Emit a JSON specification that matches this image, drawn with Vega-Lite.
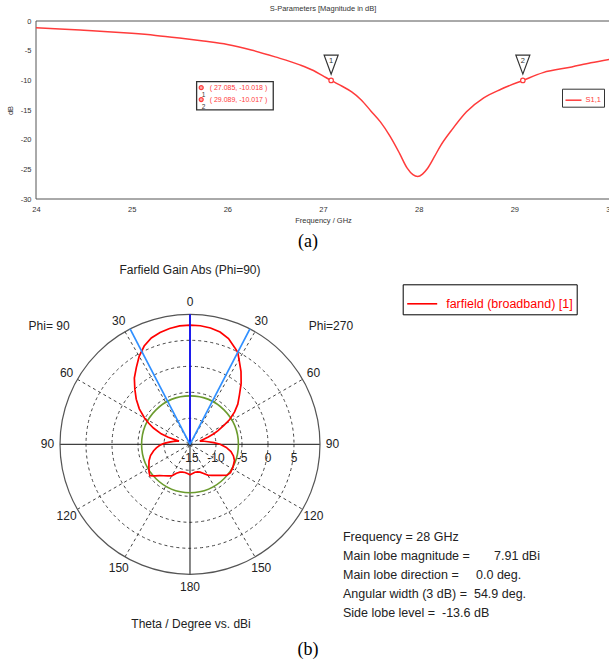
{
"$schema": "https://vega.github.io/schema/vega-lite/v6.json",
"background": "white",
"padding": {"left": 6, "top": 4, "right": 0, "bottom": 0},
"bounds": "flush",
"spacing": 3,
"resolve": {"scale": {"color": "independent", "size": "independent"}, "legend": {"color": "independent", "size": "independent"}},
"config": {
  "font": "Liberation Sans",
  "view": {"stroke": null},
  "axis": {"labelFont": "Liberation Sans", "titleFont": "Liberation Sans", "labelFontSize": 7.5, "titleFontSize": 7.5, "titleFontWeight": "normal", "labelColor": "#333", "titleColor": "#333", "domain": false, "ticks": false, "gridColor": "#777", "gridDash": [1, 2], "gridOpacity": 1, "gridWidth": 1, "labelOverlap": false, "tickCount": 7},
  "title": {"font": "Liberation Sans", "fontSize": 7.5, "fontWeight": "normal", "color": "#333"}
},
"datasets": {
  "s11": [
    {"f": 24, "db": -1.13}, {"f": 24.25, "db": -1.33}, {"f": 24.5, "db": -1.56}, {"f": 24.75, "db": -1.8},
    {"f": 25, "db": -2.08}, {"f": 25.25, "db": -2.43}, {"f": 25.5, "db": -2.88}, {"f": 25.75, "db": -3.38},
    {"f": 26, "db": -3.95}, {"f": 26.25, "db": -4.88}, {"f": 26.5, "db": -6.05}, {"f": 26.75, "db": -7.35},
    {"f": 26.9, "db": -8.35}, {"f": 27, "db": -9.25}, {"f": 27.085, "db": -10.018}, {"f": 27.2, "db": -11.0},
    {"f": 27.3, "db": -11.95}, {"f": 27.4, "db": -13.3}, {"f": 27.5, "db": -15.15}, {"f": 27.6, "db": -17.0},
    {"f": 27.7, "db": -19.4}, {"f": 27.8, "db": -22.3}, {"f": 27.88, "db": -24.8}, {"f": 27.94, "db": -25.9},
    {"f": 27.99, "db": -26.2}, {"f": 28.04, "db": -25.8}, {"f": 28.09, "db": -24.9}, {"f": 28.16, "db": -23.0},
    {"f": 28.23, "db": -21.0}, {"f": 28.34, "db": -18.5}, {"f": 28.5, "db": -15.3}, {"f": 28.68, "db": -12.95},
    {"f": 28.86, "db": -11.5}, {"f": 29.089, "db": -10.017}, {"f": 29.3, "db": -8.7}, {"f": 29.6, "db": -7.75},
    {"f": 29.8, "db": -7.05}, {"f": 30, "db": -6.45}
  ],
  "markers": [{"id": "1", "f": 27.085, "db": -10.018}, {"id": "2", "f": 29.089, "db": -10.017}],
  "farfield": [
    {"phi": 270, "theta": 0, "gain": 7.91}, {"phi": 270, "theta": 5, "gain": 7.88}, {"phi": 270, "theta": 10, "gain": 7.72},
    {"phi": 270, "theta": 15, "gain": 7.35}, {"phi": 270, "theta": 20, "gain": 6.65}, {"phi": 270, "theta": 25, "gain": 5.45},
    {"phi": 270, "theta": 27.45, "gain": 4.91}, {"phi": 270, "theta": 30, "gain": 3.85}, {"phi": 270, "theta": 35, "gain": 2.1},
    {"phi": 270, "theta": 40, "gain": 0.3}, {"phi": 270, "theta": 45, "gain": -1.55}, {"phi": 270, "theta": 50, "gain": -3.0},
    {"phi": 270, "theta": 54, "gain": -4.4}, {"phi": 270, "theta": 58, "gain": -6.0}, {"phi": 270, "theta": 61, "gain": -7.6},
    {"phi": 270, "theta": 64, "gain": -9.0}, {"phi": 270, "theta": 66, "gain": -9.9}, {"phi": 270, "theta": 68, "gain": -11.2},
    {"phi": 270, "theta": 70, "gain": -12.4}, {"phi": 270, "theta": 72, "gain": -13.0}, {"phi": 270, "theta": 75, "gain": -12.6},
    {"phi": 270, "theta": 78, "gain": -12.2}, {"phi": 270, "theta": 82, "gain": -11.5}, {"phi": 270, "theta": 86, "gain": -10.4},
    {"phi": 270, "theta": 90, "gain": -9.2}, {"phi": 270, "theta": 95, "gain": -8.0}, {"phi": 270, "theta": 100, "gain": -7.0},
    {"phi": 270, "theta": 105, "gain": -6.35}, {"phi": 270, "theta": 110, "gain": -5.9}, {"phi": 270, "theta": 118, "gain": -5.65},
    {"phi": 270, "theta": 125, "gain": -5.5}, {"phi": 270, "theta": 130, "gain": -5.75}, {"phi": 270, "theta": 135, "gain": -6.55},
    {"phi": 270, "theta": 140, "gain": -7.2}, {"phi": 270, "theta": 145, "gain": -7.7}, {"phi": 270, "theta": 150, "gain": -8.15},
    {"phi": 270, "theta": 155, "gain": -8.8}, {"phi": 270, "theta": 160, "gain": -9.3}, {"phi": 270, "theta": 165, "gain": -9.5},
    {"phi": 270, "theta": 170, "gain": -9.55}, {"phi": 270, "theta": 175, "gain": -9.35}, {"phi": 270, "theta": 180, "gain": -9.15},
    {"phi": 90, "theta": 175, "gain": -9.35}, {"phi": 90, "theta": 170, "gain": -9.5}, {"phi": 90, "theta": 165, "gain": -9.45},
    {"phi": 90, "theta": 160, "gain": -9.3}, {"phi": 90, "theta": 155, "gain": -8.85}, {"phi": 90, "theta": 150, "gain": -8.0},
    {"phi": 90, "theta": 145, "gain": -7.6}, {"phi": 90, "theta": 140, "gain": -7.1}, {"phi": 90, "theta": 136, "gain": -6.6},
    {"phi": 90, "theta": 132, "gain": -5.95}, {"phi": 90, "theta": 128, "gain": -5.2}, {"phi": 90, "theta": 124, "gain": -5.5},
    {"phi": 90, "theta": 118, "gain": -6.05}, {"phi": 90, "theta": 112, "gain": -6.5}, {"phi": 90, "theta": 106, "gain": -7.1},
    {"phi": 90, "theta": 100, "gain": -7.9}, {"phi": 90, "theta": 96, "gain": -8.5}, {"phi": 90, "theta": 92, "gain": -9.2},
    {"phi": 90, "theta": 88, "gain": -10.0}, {"phi": 90, "theta": 84, "gain": -11.0}, {"phi": 90, "theta": 80, "gain": -11.8},
    {"phi": 90, "theta": 77, "gain": -12.3}, {"phi": 90, "theta": 74, "gain": -12.8}, {"phi": 90, "theta": 72, "gain": -10.6},
    {"phi": 90, "theta": 70, "gain": -9.1}, {"phi": 90, "theta": 66, "gain": -7.3}, {"phi": 90, "theta": 63, "gain": -6.1},
    {"phi": 90, "theta": 60, "gain": -4.9}, {"phi": 90, "theta": 55, "gain": -3.1}, {"phi": 90, "theta": 50, "gain": -1.5},
    {"phi": 90, "theta": 45, "gain": 0.0}, {"phi": 90, "theta": 40, "gain": 1.65}, {"phi": 90, "theta": 35, "gain": 3.0},
    {"phi": 90, "theta": 30, "gain": 4.55}, {"phi": 90, "theta": 25, "gain": 5.85}, {"phi": 90, "theta": 20, "gain": 6.75},
    {"phi": 90, "theta": 15, "gain": 7.25}, {"phi": 90, "theta": 10, "gain": 7.62}, {"phi": 90, "theta": 5, "gain": 7.87},
    {"phi": 90, "theta": 0, "gain": 7.91}
  ],
  "circles": [{"gain": -10, "kind": "grid"}, {"gain": -5, "kind": "grid"}, {"gain": 0, "kind": "grid"}, {"gain": 5, "kind": "grid"}, {"gain": 10, "kind": "outer"}, {"gain": -5.69, "kind": "sidelobe"}],
  "guides": [
    {"kind": "spoke", "g": "s30", "angle": 30, "r": 0}, {"kind": "spoke", "g": "s30", "angle": 30, "r": 25},
    {"kind": "spoke", "g": "s60", "angle": 60, "r": 0}, {"kind": "spoke", "g": "s60", "angle": 60, "r": 25},
    {"kind": "spoke", "g": "s120", "angle": 120, "r": 0}, {"kind": "spoke", "g": "s120", "angle": 120, "r": 25},
    {"kind": "spoke", "g": "s150", "angle": 150, "r": 0}, {"kind": "spoke", "g": "s150", "angle": 150, "r": 25},
    {"kind": "spoke", "g": "sm30", "angle": -30, "r": 0}, {"kind": "spoke", "g": "sm30", "angle": -30, "r": 25},
    {"kind": "spoke", "g": "sm60", "angle": -60, "r": 0}, {"kind": "spoke", "g": "sm60", "angle": -60, "r": 25},
    {"kind": "spoke", "g": "sm120", "angle": -120, "r": 0}, {"kind": "spoke", "g": "sm120", "angle": -120, "r": 25},
    {"kind": "spoke", "g": "sm150", "angle": -150, "r": 0}, {"kind": "spoke", "g": "sm150", "angle": -150, "r": 25},
    {"kind": "axis", "g": "v", "angle": 0, "r": 25}, {"kind": "axis", "g": "v", "angle": 180, "r": 25},
    {"kind": "axis", "g": "h", "angle": 90, "r": 25}, {"kind": "axis", "g": "h", "angle": -90, "r": 25},
    {"kind": "main", "g": "m", "angle": 0, "r": 0}, {"kind": "main", "g": "m", "angle": 0, "r": 25},
    {"kind": "hpbw", "g": "a", "angle": 27.45, "r": 0}, {"kind": "hpbw", "g": "a", "angle": 27.45, "r": 25},
    {"kind": "hpbw", "g": "b", "angle": -27.45, "r": 0}, {"kind": "hpbw", "g": "b", "angle": -27.45, "r": 25}
  ],
  "anglelabels": [
    {"angle": 0, "label": "0"}, {"angle": 30, "label": "30"}, {"angle": 60, "label": "60"}, {"angle": 90, "label": "90"},
    {"angle": 120, "label": "120"}, {"angle": 150, "label": "150"}, {"angle": 180, "label": "180"},
    {"angle": -30, "label": "30"}, {"angle": -60, "label": "60"}, {"angle": -90, "label": "90"},
    {"angle": -120, "label": "120"}, {"angle": -150, "label": "150"}
  ],
  "ringlabels": [{"gain": -15, "label": "-15"}, {"gain": -10, "label": "-10"}, {"gain": -5, "label": "-5"}, {"gain": 0, "label": "0"}, {"gain": 5, "label": "5"}]
},
"vconcat": [
  {
    "width": 574,
    "height": 178,
    "title": {"text": "S-Parameters [Magnitude in dB]", "offset": 5},
    "layer": [
      {
        "data": {"values": [{}]},
        "mark": {"type": "rect", "filled": false, "stroke": "#555", "strokeWidth": 1},
        "encoding": {
          "x": {"datum": 24, "type": "quantitative", "scale": {"domain": [24, 30], "nice": false, "zero": false},
                "axis": {"values": [24, 25, 26, 27, 28, 29, 30], "tickCount": 7, "labelExpr": "datum.value + ''", "title": "Frequency / GHz", "labelPadding": 6, "titlePadding": 4, "labelFlush": false}},
          "x2": {"datum": 30},
          "y": {"datum": -30, "type": "quantitative", "scale": {"domain": [-30, 0], "nice": false, "zero": false},
                "axis": {"values": [-30, -25, -20, -15, -10, -5, 0], "tickCount": 7, "labelExpr": "datum.value + ''", "title": "dB", "labelPadding": 5, "titlePadding": 6}},
          "y2": {"datum": 0}
        }
      },
      {
        "data": {"name": "s11"},
        "mark": {"type": "line", "strokeWidth": 1.5, "interpolate": "monotone"},
        "encoding": {
          "x": {"field": "f", "type": "quantitative", "scale": {"domain": [24, 30], "nice": false, "zero": false},
                "axis": {"values": [24, 25, 26, 27, 28, 29, 30], "tickCount": 7, "labelExpr": "datum.value + ''", "title": "Frequency / GHz", "labelPadding": 6, "titlePadding": 4, "labelFlush": false}},
          "y": {"field": "db", "type": "quantitative", "scale": {"domain": [-30, 0], "nice": false, "zero": false},
                "axis": {"values": [-30, -25, -20, -15, -10, -5, 0], "tickCount": 7, "labelExpr": "datum.value + ''", "title": "dB", "labelPadding": 5, "titlePadding": 6}},
          "color": {"datum": "S1,1", "type": "nominal", "scale": {"domain": ["S1,1"], "range": ["#ff3b3b"]},
                    "legend": {"orient": "none", "legendX": 526, "legendY": 67.7, "title": null, "padding": 2.5, "strokeColor": "#333", "fillColor": "white", "symbolType": "stroke", "symbolSize": 256, "symbolStrokeWidth": 1.5, "labelFontSize": 7.5, "labelColor": "#ff3b3b", "labelFont": "Liberation Sans", "labelOffset": 3}}
        }
      },
      {
        "data": {"name": "markers"},
        "mark": {"type": "point", "shape": "circle", "size": 20, "fill": "white", "stroke": "#ff3b3b", "strokeWidth": 1.2, "opacity": 1},
        "encoding": {"x": {"field": "f", "type": "quantitative"}, "y": {"field": "db", "type": "quantitative"}}
      },
      {
        "data": {"name": "markers"},
        "mark": {"type": "point", "shape": "M-0.737,-1L0.737,-1L0,1Z", "size": 361, "fill": "white", "stroke": "#333", "strokeWidth": 1.2, "opacity": 1, "yOffset": -15.8},
        "encoding": {"x": {"field": "f", "type": "quantitative"}, "y": {"field": "db", "type": "quantitative"}}
      },
      {
        "data": {"name": "markers"},
        "mark": {"type": "text", "fontSize": 7.5, "color": "#333", "yOffset": -19.5, "baseline": "middle"},
        "encoding": {"x": {"field": "f", "type": "quantitative"}, "y": {"field": "db", "type": "quantitative"}, "text": {"field": "id", "type": "nominal"}}
      },
      {
        "data": {"values": [{}]},
        "mark": {"type": "rect", "fill": "white", "stroke": "#333", "strokeWidth": 1.3},
        "encoding": {"x": {"datum": 25.679, "type": "quantitative"}, "x2": {"datum": 26.48}, "y": {"datum": -10.22, "type": "quantitative"}, "y2": {"datum": -14.98}}
      },
      {
        "data": {"values": [{}]},
        "mark": {"type": "text", "text": ["( 27.085, -10.018 )", "( 29.089, -10.017 )"], "fontSize": 7, "lineHeight": 12, "color": "#ff3b3b", "align": "left", "baseline": "middle"},
        "encoding": {"x": {"datum": 25.815, "type": "quantitative"}, "y": {"datum": -11.23, "type": "quantitative"}}
      },
      {
        "data": {"values": [{}]},
        "mark": {"type": "text", "text": ["1", "2"], "fontSize": 6.5, "lineHeight": 12, "color": "#333", "align": "center", "baseline": "middle"},
        "encoding": {"x": {"datum": 25.752, "type": "quantitative"}, "y": {"datum": -12.41, "type": "quantitative"}}
      },
      {
        "data": {"values": [{"db": -11.23}, {"db": -13.25}]},
        "mark": {"type": "point", "shape": "circle", "size": 16, "fill": "#ffaaaa", "stroke": "#ff3b3b", "strokeWidth": 1.2, "opacity": 1},
        "encoding": {"x": {"datum": 25.727, "type": "quantitative"}, "y": {"field": "db", "type": "quantitative"}}
      }
    ]
  },
  {
    "width": 574,
    "height": 459,
    "layer": [
      {
        "data": {"name": "circles"},
        "transform": [{"filter": "datum.kind == 'grid'"}, {"calculate": "datum.gain + 15", "as": "r"}],
        "mark": {"type": "point", "shape": "circle", "filled": false, "stroke": "#444", "strokeDash": [3, 3], "strokeWidth": 1, "opacity": 1},
        "encoding": {
          "x": {"datum": 0, "type": "quantitative", "scale": {"domain": [-29.615, 80.769], "nice": false, "zero": false}, "axis": null},
          "y": {"datum": 0, "type": "quantitative", "scale": {"domain": [-41.673, 46.596], "nice": false, "zero": false}, "axis": null},
          "size": {"field": "r", "type": "quantitative", "scale": {"type": "pow", "exponent": 2, "domain": [0, 25], "range": [0, 67600]}, "legend": null}
        }
      },
      {
        "data": {"name": "guides"},
        "transform": [
          {"filter": "datum.kind == 'spoke'"},
          {"calculate": "datum.r * sin(datum.angle * PI / 180)", "as": "x"},
          {"calculate": "datum.r * cos(datum.angle * PI / 180)", "as": "y"}
        ],
        "mark": {"type": "line", "stroke": "#444", "strokeDash": [3, 3], "strokeWidth": 1},
        "encoding": {
          "x": {"field": "x", "type": "quantitative", "scale": {"domain": [-29.615, 80.769], "nice": false, "zero": false}, "axis": null},
          "y": {"field": "y", "type": "quantitative", "scale": {"domain": [-41.673, 46.596], "nice": false, "zero": false}, "axis": null},
          "detail": {"field": "g", "type": "nominal"}
        }
      },
      {
        "data": {"name": "guides"},
        "transform": [
          {"filter": "datum.kind == 'axis'"},
          {"calculate": "datum.r * sin(datum.angle * PI / 180)", "as": "x"},
          {"calculate": "datum.r * cos(datum.angle * PI / 180)", "as": "y"}
        ],
        "mark": {"type": "line", "stroke": "#111", "strokeWidth": 1},
        "encoding": {
          "x": {"field": "x", "type": "quantitative", "scale": {"domain": [-29.615, 80.769], "nice": false, "zero": false}, "axis": null},
          "y": {"field": "y", "type": "quantitative", "scale": {"domain": [-41.673, 46.596], "nice": false, "zero": false}, "axis": null},
          "detail": {"field": "g", "type": "nominal"}
        }
      },
      {
        "data": {"name": "circles"},
        "transform": [{"filter": "datum.kind == 'outer'"}, {"calculate": "datum.gain + 15", "as": "r"}],
        "mark": {"type": "point", "shape": "circle", "filled": false, "stroke": "#555", "strokeWidth": 1.2, "opacity": 1},
        "encoding": {
          "x": {"datum": 0, "type": "quantitative", "scale": {"domain": [-29.615, 80.769], "nice": false, "zero": false}, "axis": null},
          "y": {"datum": 0, "type": "quantitative", "scale": {"domain": [-41.673, 46.596], "nice": false, "zero": false}, "axis": null},
          "size": {"field": "r", "type": "quantitative", "scale": {"type": "pow", "exponent": 2, "domain": [0, 25], "range": [0, 67600]}, "legend": null}
        }
      },
      {
        "data": {"name": "circles"},
        "transform": [{"filter": "datum.kind == 'sidelobe'"}, {"calculate": "datum.gain + 15", "as": "r"}],
        "mark": {"type": "point", "shape": "circle", "filled": false, "stroke": "#6b9b2e", "strokeWidth": 1.6, "opacity": 1},
        "encoding": {
          "x": {"datum": 0, "type": "quantitative", "scale": {"domain": [-29.615, 80.769], "nice": false, "zero": false}, "axis": null},
          "y": {"datum": 0, "type": "quantitative", "scale": {"domain": [-41.673, 46.596], "nice": false, "zero": false}, "axis": null},
          "size": {"field": "r", "type": "quantitative", "scale": {"type": "pow", "exponent": 2, "domain": [0, 25], "range": [0, 67600]}, "legend": null}
        }
      },
      {
        "data": {"name": "farfield"},
        "transform": [
          {"calculate": "(datum.gain + 15) * sin(datum.theta * PI / 180) * (datum.phi == 270 ? 1 : -1)", "as": "x"},
          {"calculate": "(datum.gain + 15) * cos(datum.theta * PI / 180)", "as": "y"},
          {"calculate": "datum.phi == 270 ? datum.theta : 360 - datum.theta", "as": "ord"}
        ],
        "mark": {"type": "line", "strokeWidth": 1.7},
        "encoding": {
          "x": {"field": "x", "type": "quantitative", "scale": {"domain": [-29.615, 80.769], "nice": false, "zero": false}, "axis": null},
          "y": {"field": "y", "type": "quantitative", "scale": {"domain": [-41.673, 46.596], "nice": false, "zero": false}, "axis": null},
          "order": {"field": "ord", "type": "quantitative"},
          "color": {"datum": "farfield (broadband) [1]", "type": "nominal", "scale": {"domain": ["farfield (broadband) [1]"], "range": ["#ff0000"]},
                    "legend": {"orient": "none", "legendX": 366.7, "legendY": 82.3, "title": null, "padding": 3.5, "strokeColor": "#000", "fillColor": "white", "symbolType": "stroke", "symbolSize": 900, "symbolStrokeWidth": 1.6, "labelFontSize": 12.5, "labelColor": "#ff0000", "labelFont": "Liberation Sans", "labelOffset": 8}}
        }
      },
      {
        "data": {"name": "guides"},
        "transform": [
          {"filter": "datum.kind == 'main'"},
          {"calculate": "datum.r * sin(datum.angle * PI / 180)", "as": "x"},
          {"calculate": "datum.r * cos(datum.angle * PI / 180)", "as": "y"}
        ],
        "mark": {"type": "line", "stroke": "#0a0aff", "strokeWidth": 1.7},
        "encoding": {
          "x": {"field": "x", "type": "quantitative", "scale": {"domain": [-29.615, 80.769], "nice": false, "zero": false}, "axis": null},
          "y": {"field": "y", "type": "quantitative", "scale": {"domain": [-41.673, 46.596], "nice": false, "zero": false}, "axis": null},
          "detail": {"field": "g", "type": "nominal"}
        }
      },
      {
        "data": {"name": "guides"},
        "transform": [
          {"filter": "datum.kind == 'hpbw'"},
          {"calculate": "datum.r * sin(datum.angle * PI / 180)", "as": "x"},
          {"calculate": "datum.r * cos(datum.angle * PI / 180)", "as": "y"}
        ],
        "mark": {"type": "line", "stroke": "#2f8fff", "strokeWidth": 1.7},
        "encoding": {
          "x": {"field": "x", "type": "quantitative", "scale": {"domain": [-29.615, 80.769], "nice": false, "zero": false}, "axis": null},
          "y": {"field": "y", "type": "quantitative", "scale": {"domain": [-41.673, 46.596], "nice": false, "zero": false}, "axis": null},
          "detail": {"field": "g", "type": "nominal"}
        }
      },
      {
        "data": {"name": "anglelabels"},
        "transform": [
          {"calculate": "27.4 * sin(datum.angle * PI / 180)", "as": "x"},
          {"calculate": "27.4 * cos(datum.angle * PI / 180)", "as": "y"}
        ],
        "mark": {"type": "text", "fontSize": 12, "color": "#222", "align": "center", "baseline": "middle"},
        "encoding": {
          "x": {"field": "x", "type": "quantitative", "scale": {"domain": [-29.615, 80.769], "nice": false, "zero": false}, "axis": null},
          "y": {"field": "y", "type": "quantitative", "scale": {"domain": [-41.673, 46.596], "nice": false, "zero": false}, "axis": null},
          "text": {"field": "label", "type": "nominal"}
        }
      },
      {
        "data": {"name": "ringlabels"},
        "transform": [{"calculate": "datum.gain + 15", "as": "x"}],
        "mark": {"type": "text", "fontSize": 12, "color": "#222", "align": "center", "baseline": "middle"},
        "encoding": {
          "x": {"field": "x", "type": "quantitative", "scale": {"domain": [-29.615, 80.769], "nice": false, "zero": false}, "axis": null},
          "y": {"datum": -2.73, "type": "quantitative", "scale": {"domain": [-41.673, 46.596], "nice": false, "zero": false}, "axis": null},
          "text": {"field": "label", "type": "nominal"}
        }
      },
      {
        "data": {"values": [{}]},
        "mark": {"type": "text", "text": "Phi= 90", "fontSize": 12, "color": "#222", "align": "center", "baseline": "middle"},
        "encoding": {
          "x": {"datum": -27.1, "type": "quantitative", "scale": {"domain": [-29.615, 80.769], "nice": false, "zero": false}, "axis": null},
          "y": {"datum": 22.75, "type": "quantitative", "scale": {"domain": [-41.673, 46.596], "nice": false, "zero": false}, "axis": null}
        }
      },
      {
        "data": {"values": [{}]},
        "mark": {"type": "text", "text": "Phi=270", "fontSize": 12, "color": "#222", "align": "center", "baseline": "middle"},
        "encoding": {
          "x": {"datum": 27.1, "type": "quantitative", "scale": {"domain": [-29.615, 80.769], "nice": false, "zero": false}, "axis": null},
          "y": {"datum": 22.75, "type": "quantitative", "scale": {"domain": [-41.673, 46.596], "nice": false, "zero": false}, "axis": null}
        }
      },
      {
        "data": {"values": [{}]},
        "mark": {"type": "text", "text": "Farfield Gain Abs (Phi=90)", "fontSize": 12, "color": "#222", "align": "center", "baseline": "middle"},
        "encoding": {
          "x": {"datum": 0, "type": "quantitative", "scale": {"domain": [-29.615, 80.769], "nice": false, "zero": false}, "axis": null},
          "y": {"datum": 33.5, "type": "quantitative", "scale": {"domain": [-41.673, 46.596], "nice": false, "zero": false}, "axis": null}
        }
      },
      {
        "data": {"values": [{}]},
        "mark": {"type": "text", "text": "Theta / Degree vs. dBi", "fontSize": 12, "color": "#222", "align": "center", "baseline": "middle"},
        "encoding": {
          "x": {"datum": 0.2, "type": "quantitative", "scale": {"domain": [-29.615, 80.769], "nice": false, "zero": false}, "axis": null},
          "y": {"datum": -34.5, "type": "quantitative", "scale": {"domain": [-41.673, 46.596], "nice": false, "zero": false}, "axis": null}
        }
      },
      {
        "data": {"values": [{}]},
        "mark": {"type": "text", "text": ["Frequency = 28 GHz", "Main lobe magnitude =\u00a0\u00a0\u00a0\u00a0\u00a0\u00a0 7.91 dBi", "Main lobe direction =\u00a0\u00a0\u00a0\u00a0 0.0 deg.", "Angular width (3 dB) =\u00a0 54.9 deg.", "Side lobe level =\u00a0 -13.6 dB"], "fontSize": 12.5, "lineHeight": 19, "color": "#222", "align": "left", "baseline": "middle"},
        "encoding": {
          "x": {"datum": 29.42, "type": "quantitative", "scale": {"domain": [-29.615, 80.769], "nice": false, "zero": false}, "axis": null},
          "y": {"datum": -17.83, "type": "quantitative", "scale": {"domain": [-41.673, 46.596], "nice": false, "zero": false}, "axis": null}
        }
      },
      {
        "data": {"values": [{}]},
        "mark": {"type": "text", "text": "(a)", "font": "Liberation Serif", "fontSize": 18, "color": "#000", "align": "center", "baseline": "middle"},
        "encoding": {
          "x": {"datum": 22.69, "type": "quantitative", "scale": {"domain": [-29.615, 80.769], "nice": false, "zero": false}, "axis": null},
          "y": {"datum": 38.9, "type": "quantitative", "scale": {"domain": [-41.673, 46.596], "nice": false, "zero": false}, "axis": null}
        }
      },
      {
        "data": {"values": [{}]},
        "mark": {"type": "text", "text": "(b)", "font": "Liberation Serif", "fontSize": 18, "color": "#000", "align": "center", "baseline": "middle"},
        "encoding": {
          "x": {"datum": 22.69, "type": "quantitative", "scale": {"domain": [-29.615, 80.769], "nice": false, "zero": false}, "axis": null},
          "y": {"datum": -39.56, "type": "quantitative", "scale": {"domain": [-41.673, 46.596], "nice": false, "zero": false}, "axis": null}
        }
      }
    ]
  }
]
}
